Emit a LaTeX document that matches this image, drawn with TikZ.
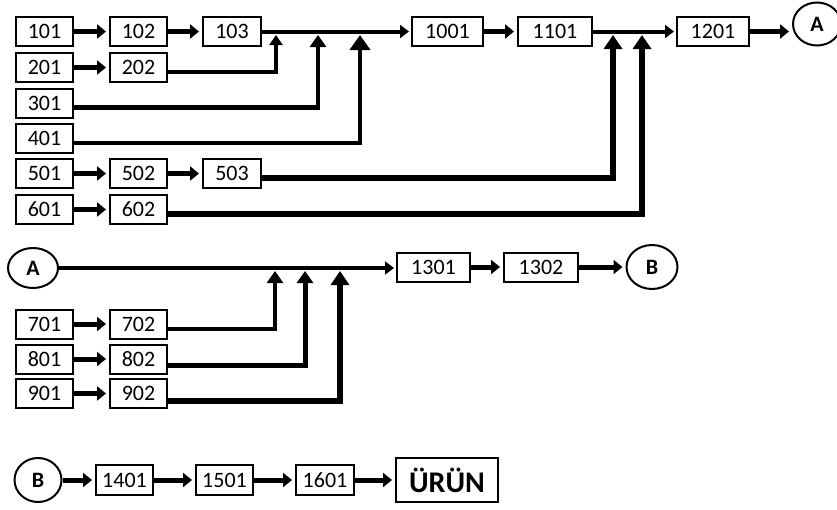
\documentclass[tikz,border=0pt]{standalone}
\usepackage{fontspec}
\setmainfont{Carlito}
\usetikzlibrary{arrows.meta,shapes.geometric}
\begin{document}
\begin{tikzpicture}[x=1pt,y=-1pt,
 box/.style={draw,line width=2pt,minimum height=29pt,inner sep=0pt,font=\fontsize{22}{26}\selectfont},
 sbox/.style={box,minimum width=57pt},
 lbox/.style={box,minimum width=72pt},
 circ/.style={draw,ellipse,line width=2pt,inner sep=0pt,font=\bfseries\fontsize{22}{24}\selectfont},
 stepar/.style={line width=5pt,-{Triangle[length=9pt,width=14pt]},shorten >=3pt},
 mainar/.style={line width=4pt,-{Triangle[length=9pt,width=13pt]},shorten >=2pt},
 upar/.style={line width=4.5pt,-{Triangle[length=12pt,width=16pt]}},
 bigar/.style={line width=6.5pt,-{Triangle[length=14pt,width=18pt]}},
]
\useasboundingbox (0,0) rectangle (837,509);
% top section
\node[sbox] (b101) at (44.5,31.5) {101};
\node[sbox] (b102) at (138.5,31.5) {102};
\node[sbox,minimum width=58pt] (b103) at (232,31.5) {103};
\node[sbox] (b201) at (44.5,67.5) {201};
\node[sbox] (b202) at (138.5,67.5) {202};
\node[sbox] (b301) at (44.5,103) {301};
\node[sbox] (b401) at (44.5,138.5) {401};
\node[sbox] (b501) at (44.5,173.5) {501};
\node[sbox] (b502) at (138.5,173.5) {502};
\node[sbox,minimum width=58pt] (b503) at (232,173.5) {503};
\node[sbox] (b601) at (44.5,209.5) {601};
\node[sbox] (b602) at (138.5,209.5) {602};
\node[lbox,minimum width=71pt] (b1001) at (447.5,31.5) {1001};
\node[lbox,minimum width=74pt] (b1101) at (555,31.5) {1101};
\node[lbox] (b1201) at (713,31.5) {1201};
\node[circ,minimum width=48pt,minimum height=43pt] (A1) at (817,24) {A};
\coordinate (j1) at (276,35);
\coordinate (j2) at (318,35);
\coordinate (j3) at (360,35);
\coordinate (j4) at (613,35);
\coordinate (j5) at (642,35);
\draw[stepar] (b101) -- (b102);
\draw[stepar] (b102) -- (b103);
\draw[stepar] (b201) -- (b202);
\draw[stepar] (b501) -- (b502);
\draw[stepar] (b502) -- (b503);
\draw[stepar] (b601) -- (b602);
\draw[mainar] (b103.east) -- (b1001.west);
\draw[stepar] (b1001) -- (b1101);
\draw[mainar] (b1101.east) -- (b1201.west);
\draw[stepar] (b1201.east) -- (b1201.east -| A1.west);
\draw[upar,line width=4pt,-{Triangle[length=10pt,width=13pt]}] ([yshift=-4pt]b202.east) -| (j1);
\draw[upar] ([yshift=-4.5pt]b301.east) -| (j2);
\draw[upar,-{Triangle[length=15pt,width=20pt]}] ([yshift=-4.5pt]b401.east) -| (j3);
\draw[bigar] ([yshift=-4.5pt]b503.east) -| (j4);
\draw[bigar] ([yshift=-4.5pt]b602.east) -| (j5);
% middle section
\node[circ,minimum width=50pt,minimum height=40pt] (A2) at (33,268) {A};
\node[lbox,minimum width=73pt] (b1301) at (433.5,267) {1301};
\node[lbox,minimum width=74pt] (b1302) at (541,267) {1302};
\node[circ,minimum width=51pt,minimum height=44pt] (B1) at (652,267) {B};
\node[sbox] (b701) at (44.5,324) {701};
\node[sbox] (b702) at (138.5,324) {702};
\node[sbox] (b801) at (44.5,359) {801};
\node[sbox] (b802) at (138.5,359) {802};
\node[sbox] (b901) at (44.5,393.5) {901};
\node[sbox] (b902) at (138.5,393.5) {902};
\coordinate (k1) at (275,271);
\coordinate (k2) at (305,271);
\coordinate (k3) at (340,271);
\draw[mainar] (A2.east) -- (A2.east -| b1301.west);
\draw[stepar] (b1301) -- (b1302);
\draw[stepar] (b1302) -- (B1);
\draw[stepar] (b701) -- (b702);
\draw[stepar] (b801) -- (b802);
\draw[stepar] (b901) -- (b902);
\draw[upar] ([yshift=-5pt]b702.east) -| (k1);
\draw[upar,line width=5pt] ([yshift=-6pt]b802.east) -| (k2);
\draw[upar,line width=6pt,-{Triangle[length=14pt,width=18pt]}] ([yshift=-7pt]b902.east) -| (k3);
% bottom section
\node[circ,minimum width=47pt,minimum height=44pt] (B2) at (38,480) {B};
\node[sbox,minimum height=30pt] (b1401) at (124.5,480) {1401};
\node[sbox,minimum height=30pt] (b1501) at (224.5,480) {1501};
\node[sbox,minimum height=30pt,minimum width=58pt] (b1601) at (325,480) {1601};
\node[box,minimum width=102pt,minimum height=44pt,font=\bfseries\fontsize{30}{34}\selectfont] (urun) at (447,480) {ÜRÜN};
\draw[stepar] (B2) -- (b1401);
\draw[stepar] (b1401) -- (b1501);
\draw[stepar] (b1501) -- (b1601);
\draw[stepar] (b1601) -- (urun);
\end{tikzpicture}
\end{document}
